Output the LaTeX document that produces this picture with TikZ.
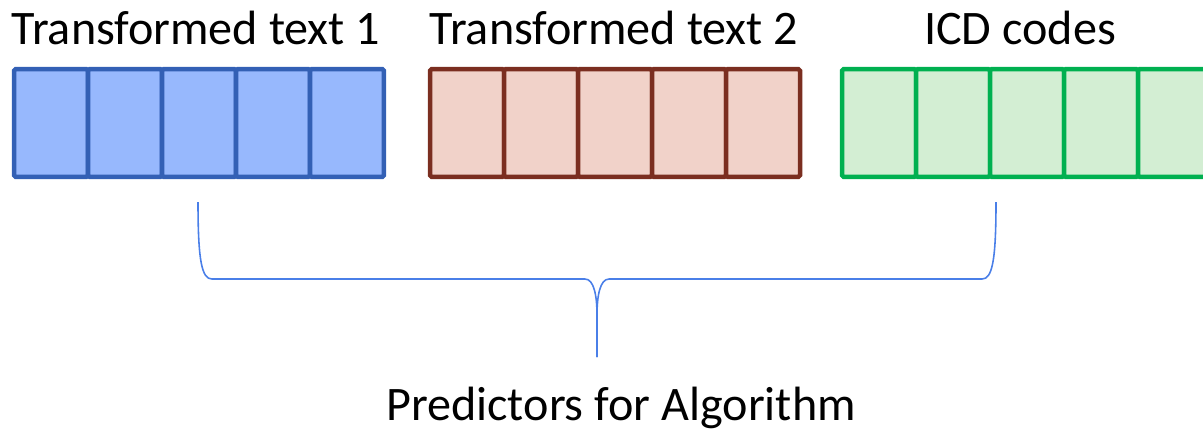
\documentclass[tikz,border=0pt]{standalone}
\usepackage{fontspec}
\setmainfont{Carlito}
\usepackage{tikz}
\usetikzlibrary{positioning}
\definecolor{celblue}{RGB}{151,184,253}
\definecolor{edgeblue}{RGB}{51,96,181}
\definecolor{celbrown}{RGB}{241,210,201}
\definecolor{edgebrown}{RGB}{123,46,32}
\definecolor{celgreen}{RGB}{211,238,211}
\definecolor{edgegreen}{RGB}{0,176,80}
\definecolor{bracecol}{RGB}{74,127,232}

\begin{document}
\begin{tikzpicture}[x=0.02cm, y=-0.02cm,
    cell/.style={draw, line width=0.09cm, rounded corners=1pt, minimum width=1.48cm, minimum height=2.16cm, inner sep=0pt},
    bluecell/.style={cell, draw=edgeblue, fill=celblue},
    browncell/.style={cell, draw=edgebrown, fill=celbrown},
    greencell/.style={cell, draw=edgegreen, fill=celgreen},
    lab/.style={font=\fontsize{27.4}{32}\selectfont, inner sep=0pt},
    bracepath/.style={draw=bracecol, line width=0.9pt}
]
    \useasboundingbox (0,0) rectangle (1203,430);

    % Bloques de celdas
    \foreach \i in {1,...,5} {
        \node[bluecell] (b\i) at ({14+37+74*(\i-1)},123) {};
        \node[browncell] (r\i) at ({430+37+74*(\i-1)},123) {};
        \node[greencell] (g\i) at ({842+37+74*(\i-1)},123) {};
    }

    % Titulos
    \node[lab] (tblue) at (196,28) {Transformed text 1};
    \node[lab] (tbrown) at (614,28) {Transformed text 2};
    \node[lab] (tgreen) at (1020,28) {ICD codes};

    % Llave
    \coordinate (bl) at (198,202);
    \coordinate (bt) at (597,357);
    \coordinate (br) at (996,202);
    \draw[bracepath] (bl) .. controls (198,262) and (202,279) .. (212,279) -- (585,279)
        .. controls (594,279) and (597,296) .. (597,315) -- (bt);
    \draw[bracepath] (bt) -- (597,315) .. controls (597,296) and (600,279) .. (609,279)
        -- (982,279) .. controls (992,279) and (996,262) .. (br);

    \node[lab] (pred) at (621,408) {Predictors for Algorithm};
\end{tikzpicture}
\end{document}
